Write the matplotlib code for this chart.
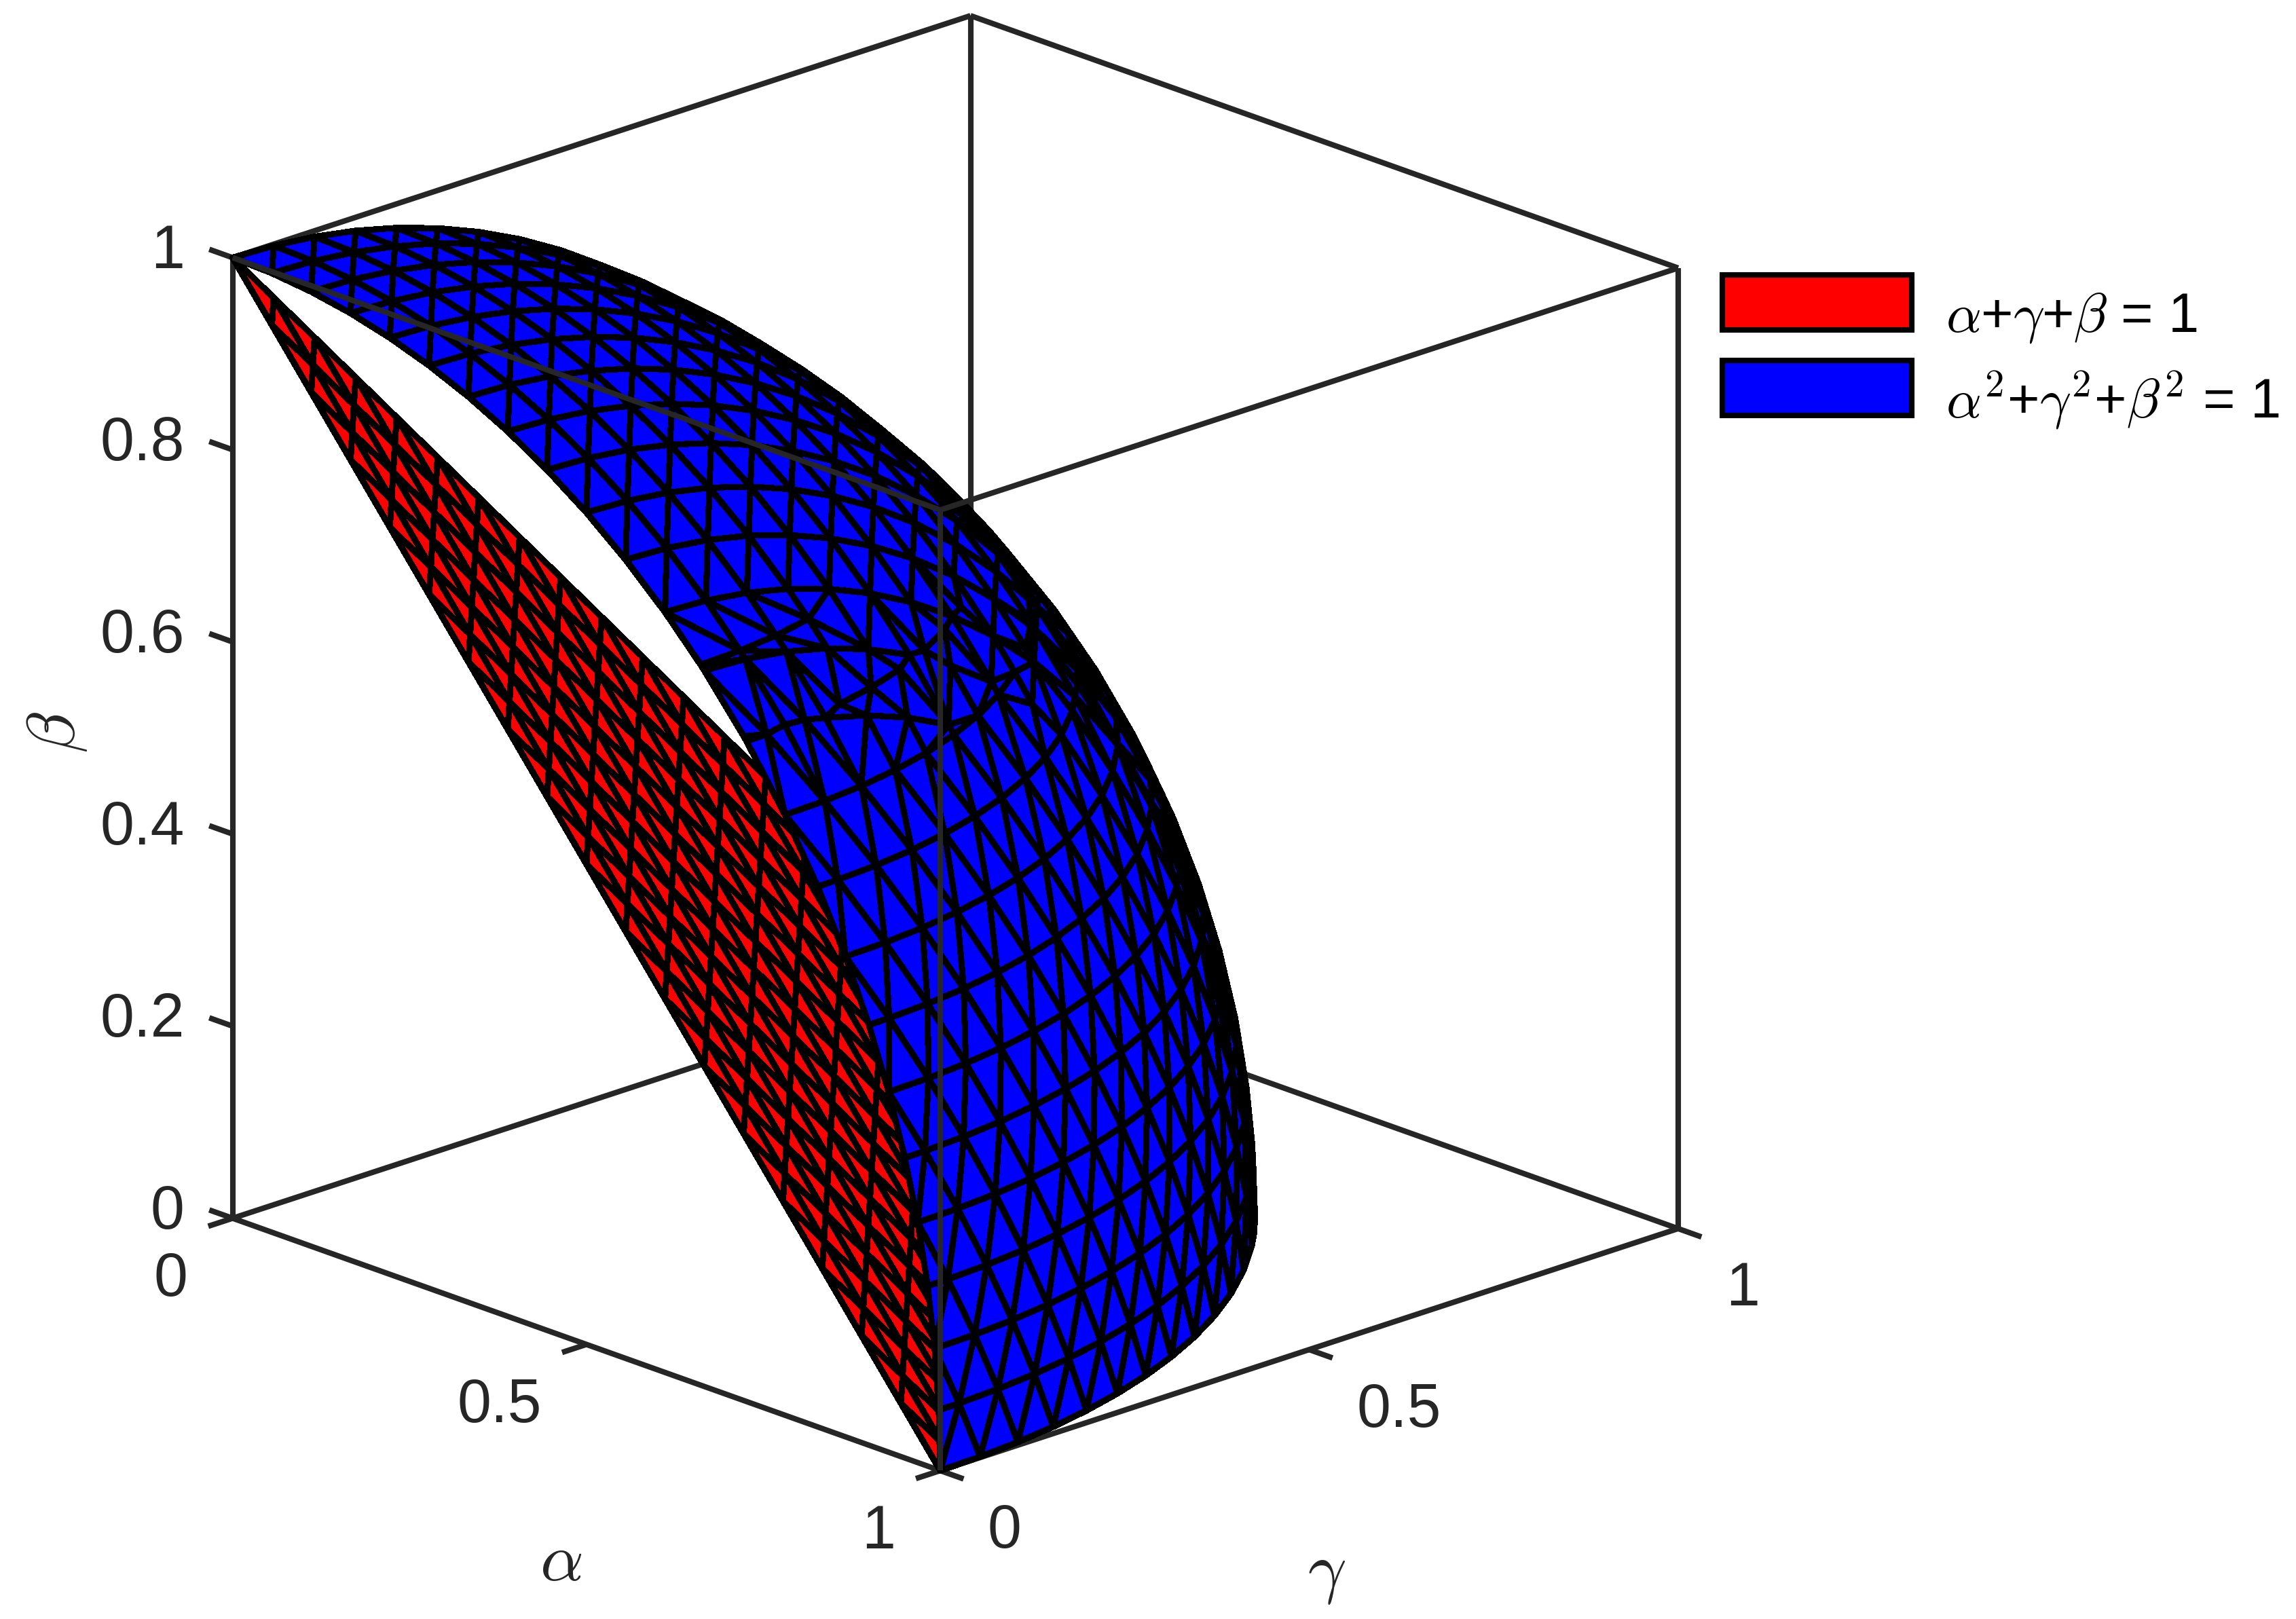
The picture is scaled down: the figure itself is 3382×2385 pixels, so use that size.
import numpy as np
import matplotlib
matplotlib.use('Agg')
import matplotlib.pyplot as plt
import matplotlib.tri as mtri
from matplotlib.patches import Patch
from mpl_toolkits.mplot3d import proj3d
from mpl_toolkits.mplot3d.art3d import Poly3DCollection

plt.rcParams['font.family'] = ['Liberation Sans', 'DejaVu Sans']
plt.rcParams['mathtext.fontset'] = 'cm'

# axis ticks
alpha_ticks = [0, 0.5, 1]
gamma_ticks = [0, 0.5, 1]
beta_ticks = [0, 0.2, 0.4, 0.6, 0.8, 1]
alpha_labels = ['0', '0.5', '1']
gamma_labels = ['0', '0.5', '1']
beta_labels = ['0', '0.2', '0.4', '0.6', '0.8', '1']
legend_labels = [r'$\alpha$+$\gamma$+$\beta$ = 1',
                 r'$\alpha^{\mathsf{2}}$+$\gamma^{\mathsf{2}}$+$\beta^{\mathsf{2}}$ = 1']

# mesh divisions of the two surfaces
plane_div = 18
cap_div = 18
side_div = 16
side_row = 18
overlap = 0.85

DARK = '#262626'
TICK = 0.033
LW = 1.95
MESH_LW = 1.95


def plane_mesh(n):
    tris = []
    p = lambda i, j: (i / n, j / n, 1 - (i + j) / n)
    for i in range(n):
        for j in range(n - i):
            tris.append([p(i, j), p(i + 1, j), p(i, j + 1)])
            if i + j < n - 1:
                tris.append([p(i + 1, j), p(i + 1, j + 1), p(i, j + 1)])
    return np.array(tris)


def sphere_mesh():
    pts = []
    # patch around the beta pole, grid in alpha and gamma
    for i in range(cap_div + 1):
        for j in range(cap_div + 1):
            a, g = i / cap_div, j / cap_div
            if a * a + g * g <= 1:
                b = np.sqrt(1 - a * a - g * g)
                if b >= overlap * max(a, g):
                    pts.append((a, g, b))
    # patches around alpha and gamma poles, rings of beta with staggered points
    for j in range(side_div + 1):
        b = j / side_div
        us = [(i + 0.5 * (j % 2)) / side_row for i in range(side_row + 1)]
        if j % 2:
            us = [0.0] + us
        for u in us:
            if u * u + b * b <= 1:
                w = np.sqrt(1 - u * u - b * b)
                if w >= overlap * max(u, b):
                    pts.append((w, u, b))
                    pts.append((u, w, b))
    pts = np.unique(np.round(np.array(pts), 6), axis=0)
    # delaunay on a stereographic view of the octant
    c = np.array([1, 1, 1]) / np.sqrt(3)
    e1 = np.array([1, -1, 0]) / np.sqrt(2)
    e2 = np.array([1, 1, -2]) / np.sqrt(6)
    d = 1 + pts @ c
    t = mtri.Triangulation(pts @ e1 / d, pts @ e2 / d)
    return pts[t.triangles]


W, H = 3382, 2385
fig = plt.figure(figsize=((W + 0.1) / 300, (H + 0.1) / 300), dpi=300)
ax = fig.add_axes([107 / W, -10 / H, 2532 / W, 2532 / H], projection='3d',
                  proj_type='ortho', computed_zorder=False)
ax.view_init(elev=20, azim=-43.8)
ax.set_box_aspect((1, 1, 1))
ax.set_xlim(0, 1)
ax.set_ylim(0, 1)
ax.set_zlim(0, 1)
ax.set_axis_off()


def seg(p, q, z):
    ax.plot([p[0], q[0]], [p[1], q[1]], [p[2], q[2]], color=DARK, lw=LW,
            zorder=z, solid_capstyle='butt')


# box lines behind the surfaces
back = [((0, 0, 0), (1, 0, 0)), ((1, 0, 0), (1, 1, 0)), ((1, 1, 0), (0, 1, 0)),
        ((0, 1, 0), (0, 0, 0)), ((0, 0, 1), (0, 1, 1)), ((0, 1, 1), (1, 1, 1)),
        ((0, 0, 0), (0, 0, 1)), ((0, 1, 0), (0, 1, 1)), ((1, 1, 0), (1, 1, 1))]
for p, q in back:
    seg(p, q, 1)

red = Poly3DCollection(plane_mesh(plane_div), facecolors=(1, 0, 0), edgecolors='k',
                       linewidths=MESH_LW, zorder=2, antialiaseds=False)
blue = Poly3DCollection(sphere_mesh(), facecolors=(0, 0, 1), edgecolors='k',
                        linewidths=MESH_LW, zorder=3, antialiaseds=False)
ax.add_collection3d(red)
ax.add_collection3d(blue)

# box lines drawn on top
front = [((0, 0, 1), (1, 0, 1)), ((1, 0, 1), (1, 1, 1)), ((1, 0, 0), (1, 0, 1))]
for p, q in front:
    seg(p, q, 4)

M = ax.get_proj()


def tick_label(p, s, dx, dy, ha):
    x2, y2, _ = proj3d.proj_transform(p[0], p[1], p[2], M)
    ax.annotate(s, xy=(x2, y2), xytext=(dx, dy), textcoords='offset pixels',
                ha=ha, va='center', fontsize=21.5, color=DARK, zorder=5,
                annotation_clip=False)


for v, s in zip(alpha_ticks, alpha_labels):
    seg((v, 0, 0), (v, -TICK, 0), 1)
    tick_label((v, 0, 0), s, -66, -91, 'right')
for v, s in zip(gamma_ticks, gamma_labels):
    seg((1, v, 0), (1 + TICK, v, 0), 1)
    tick_label((1, v, 0), s, 70, -90, 'left')
for v, s in zip(beta_ticks, beta_labels):
    seg((0, 0, v), (-TICK, 0, v), 1)
    tick_label((0, 0, v), s, -71, 8, 'right')

fig.text(383 * 2.157 / W, 1 - 1067 * 2.157 / H, r'$\alpha$', fontsize=24, color=DARK,
         ha='center', va='center')
fig.text(906 * 2.157 / W, 1 - 1075 * 2.157 / H, r'$\gamma$', fontsize=24, color=DARK,
         ha='center', va='center')
fig.text(39 * 2.157 / W, 1 - 500 * 2.157 / H, r'$\beta$', fontsize=24, color=DARK,
         ha='center', va='center', rotation=90)

handles = [Patch(facecolor=(1, 0, 0), edgecolor='k', linewidth=LW),
           Patch(facecolor=(0, 0, 1), edgecolor='k', linewidth=LW)]
leg = ax.legend(handles, legend_labels, loc='upper left', bbox_to_anchor=(2537 / W, 1 - 405 / H),
                bbox_transform=fig.transFigure, frameon=False, fontsize=19.5, borderpad=0,
                borderaxespad=0, handlelength=3.43, handleheight=1.15, labelspacing=0.44,
                handletextpad=0.62)
for t in leg.get_texts():
    t.set_y(-16)

fig.savefig('out.png', dpi=300)
